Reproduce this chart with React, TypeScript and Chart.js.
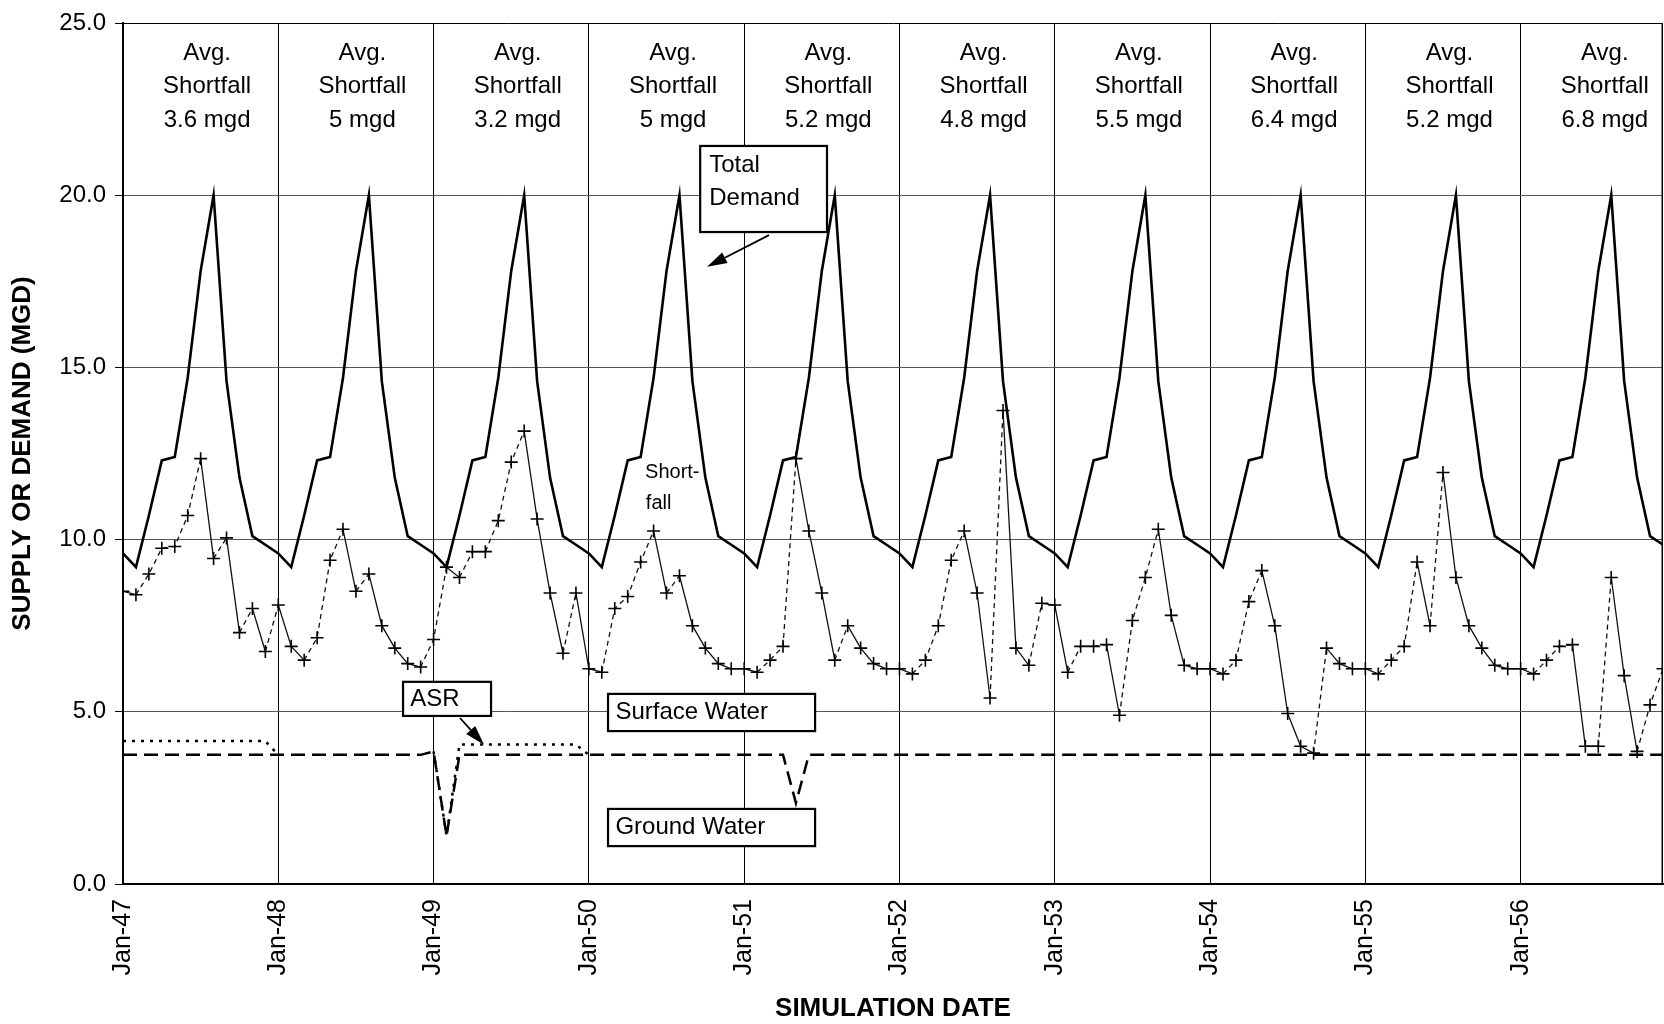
import React, { useEffect, useRef } from 'react';
import { Chart, registerables } from 'chart.js';

Chart.register(...registerables);

const FONT = "'Liberation Sans', Arial, Helvetica, sans-serif";

const yearTickLabels = ['Jan-47', 'Jan-48', 'Jan-49', 'Jan-50', 'Jan-51', 'Jan-52', 'Jan-53', 'Jan-54', 'Jan-55', 'Jan-56'];
const yTickValues = [0, 5, 10, 15, 20, 25];
const avgShortfallLabels = ['3.6 mgd', '5 mgd', '3.2 mgd', '5 mgd', '5.2 mgd', '4.8 mgd', '5.5 mgd', '6.4 mgd', '5.2 mgd', '6.8 mgd'];

// Monthly values, Jan-47 .. Dec-56 (MGD)
const totalDemand = [
  9.6, 9.2, 10.7, 12.3, 12.4, 14.7, 17.8, 20.0, 14.6, 11.8, 10.1, 9.85, // 1947
  9.6, 9.2, 10.7, 12.3, 12.4, 14.7, 17.8, 20.0, 14.6, 11.8, 10.1, 9.85, // 1948
  9.6, 9.2, 10.7, 12.3, 12.4, 14.7, 17.8, 20.0, 14.6, 11.8, 10.1, 9.85, // 1949
  9.6, 9.2, 10.7, 12.3, 12.4, 14.7, 17.8, 20.0, 14.6, 11.8, 10.1, 9.85, // 1950
  9.6, 9.2, 10.7, 12.3, 12.4, 14.7, 17.8, 20.0, 14.6, 11.8, 10.1, 9.85, // 1951
  9.6, 9.2, 10.7, 12.3, 12.4, 14.7, 17.8, 20.0, 14.6, 11.8, 10.1, 9.85, // 1952
  9.6, 9.2, 10.7, 12.3, 12.4, 14.7, 17.8, 20.0, 14.6, 11.8, 10.1, 9.85, // 1953
  9.6, 9.2, 10.7, 12.3, 12.4, 14.7, 17.8, 20.0, 14.6, 11.8, 10.1, 9.85, // 1954
  9.6, 9.2, 10.7, 12.3, 12.4, 14.7, 17.8, 20.0, 14.6, 11.8, 10.1, 9.85, // 1955
  9.6, 9.2, 10.7, 12.3, 12.4, 14.7, 17.8, 20.0, 14.6, 11.8, 10.1, 9.85, // 1956
];

const shortfall = [
  8.5, 8.4, 9.0, 9.75, 9.8, 10.7, 12.35, 9.45, 10.05, 7.3, 8.0, 6.75, // 1947
  8.1, 6.9, 6.5, 7.15, 9.4, 10.3, 8.5, 9.0, 7.5, 6.85, 6.4, 6.3, // 1948
  7.1, 9.2, 8.9, 9.65, 9.65, 10.55, 12.25, 13.15, 10.6, 8.45, 6.7, 8.45, // 1949
  6.25, 6.15, 8.0, 8.35, 9.35, 10.25, 8.45, 8.95, 7.5, 6.85, 6.4, 6.25, // 1950
  6.25, 6.15, 6.5, 6.9, 12.35, 10.25, 8.45, 6.5, 7.5, 6.85, 6.4, 6.25, // 1951
  6.25, 6.1, 6.5, 7.5, 9.4, 10.25, 8.45, 5.4, 13.75, 6.85, 6.35, 8.15, // 1952
  8.1, 6.15, 6.9, 6.9, 6.95, 4.9, 7.65, 8.9, 10.3, 7.8, 6.35, 6.25, // 1953
  6.25, 6.1, 6.5, 8.2, 9.1, 7.5, 4.95, 4.0, 3.8, 6.85, 6.4, 6.25, // 1954
  6.25, 6.1, 6.5, 6.9, 9.35, 7.5, 11.95, 8.9, 7.5, 6.85, 6.35, 6.25, // 1955
  6.25, 6.1, 6.5, 6.9, 6.95, 4.0, 4.0, 8.9, 6.05, 3.85, 5.2, 6.25, // 1956
];

const groundWater = [
  3.75, 3.75, 3.75, 3.75, 3.75, 3.75, 3.75, 3.75, 3.75, 3.75, 3.75, 3.75, // 1947
  3.75, 3.75, 3.75, 3.75, 3.75, 3.75, 3.75, 3.75, 3.75, 3.75, 3.75, 3.75, // 1948
  3.85, 1.4, 3.75, 3.75, 3.75, 3.75, 3.75, 3.75, 3.75, 3.75, 3.75, 3.75, // 1949
  3.75, 3.75, 3.75, 3.75, 3.75, 3.75, 3.75, 3.75, 3.75, 3.75, 3.75, 3.75, // 1950
  3.75, 3.75, 3.75, 3.75, 2.35, 3.75, 3.75, 3.75, 3.75, 3.75, 3.75, 3.75, // 1951
  3.75, 3.75, 3.75, 3.75, 3.75, 3.75, 3.75, 3.75, 3.75, 3.75, 3.75, 3.75, // 1952
  3.75, 3.75, 3.75, 3.75, 3.75, 3.75, 3.75, 3.75, 3.75, 3.75, 3.75, 3.75, // 1953
  3.75, 3.75, 3.75, 3.75, 3.75, 3.75, 3.75, 3.75, 3.75, 3.75, 3.75, 3.75, // 1954
  3.75, 3.75, 3.75, 3.75, 3.75, 3.75, 3.75, 3.75, 3.75, 3.75, 3.75, 3.75, // 1955
  3.75, 3.75, 3.75, 3.75, 3.75, 3.75, 3.75, 3.75, 3.75, 3.75, 3.75, 3.75, // 1956
];

// ASR only appears in 1947 and 1949 (null = not plotted)
const asr = [
  4.15, 4.15, 4.15, 4.15, 4.15, 4.15, 4.15, 4.15, 4.15, 4.15, 4.15, 4.15, // 1947
  3.75, null, null, null, null, null, null, null, null, null, null, null, // 1948
  3.85, 1.4, 4.05, 4.05, 4.05, 4.05, 4.05, 4.05, 4.05, 4.05, 4.05, 4.05, // 1949
  3.75, // Jan-50
];

const lastMonth = 119;

// note boxes in data coordinates (x = month index, y = MGD)
const noteBoxes = [
  { lines: ['Total', 'Demand'], x0: 44.6, x1: 54.4, y0: 21.43, y1: 18.93, tx: 45.3, ty: [20.88, 19.9] },
  { lines: ['ASR'], x0: 21.64, x1: 28.44, y0: 5.87, y1: 4.88, tx: 22.2, ty: [5.37] },
  { lines: ['Surface Water'], x0: 37.48, x1: 53.48, y0: 5.52, y1: 4.44, tx: 38.05, ty: [4.99] },
  { lines: ['Ground Water'], x0: 37.48, x1: 53.48, y0: 2.18, y1: 1.1, tx: 38.05, ty: [1.655] },
];
const noteArrows = [
  { x0: 49.92, y0: 18.84, x1: 45.13, y1: 17.92 },
  { x0: 26.04, y0: 4.82, x1: 27.9, y1: 4.04 },
];

function drawArrow(ctx: CanvasRenderingContext2D, x0: number, y0: number, x1: number, y1: number) {
  const ang = Math.atan2(y1 - y0, x1 - x0);
  const len = 20;
  const half = 6;
  const bx = x1 - len * Math.cos(ang);
  const by = y1 - len * Math.sin(ang);
  ctx.beginPath();
  ctx.moveTo(x0, y0);
  ctx.lineTo(bx, by);
  ctx.lineWidth = 1.8;
  ctx.stroke();
  ctx.beginPath();
  ctx.moveTo(x1, y1);
  ctx.lineTo(bx - half * Math.sin(ang), by + half * Math.cos(ang));
  ctx.lineTo(bx + half * Math.sin(ang), by - half * Math.cos(ang));
  ctx.closePath();
  ctx.fill();
}

const notesPlugin = {
  id: 'figureNotes',
  afterDraw(chart: any) {
    const { ctx, chartArea: a, scales } = chart;
    const px = (m: number) => scales.x.getPixelForValue(m);
    const py = (v: number) => scales.y.getPixelForValue(v);
    ctx.save();
    ctx.strokeStyle = '#000';
    ctx.fillStyle = '#000';
    // right frame edge
    ctx.lineWidth = 1.5;
    ctx.beginPath();
    ctx.moveTo(a.right - 0.75, a.top);
    ctx.lineTo(a.right - 0.75, a.bottom);
    ctx.stroke();

    // yearly average shortfall labels
    ctx.font = `24px ${FONT}`;
    ctx.textAlign = 'center';
    ctx.textBaseline = 'middle';
    avgShortfallLabels.forEach((t, i) => {
      const cx = px(i * 12 + 6.5);
      ctx.fillText('Avg.', cx, py(24.12));
      ctx.fillText('Shortfall', cx, py(23.16));
      ctx.fillText(t, cx, py(22.18));
    });

    // boxes
    ctx.textAlign = 'left';
    for (const b of noteBoxes) {
      const x0 = px(b.x0), x1 = px(b.x1), y0 = py(b.y0), y1 = py(b.y1);
      ctx.fillStyle = '#fff';
      ctx.fillRect(x0, y0, x1 - x0, y1 - y0);
      ctx.lineWidth = 2.2;
      ctx.strokeStyle = '#000';
      ctx.strokeRect(x0, y0, x1 - x0, y1 - y0);
      ctx.fillStyle = '#000';
      ctx.font = `24px ${FONT}`;
      b.lines.forEach((l, k) => ctx.fillText(l, px(b.tx), py(b.ty[k])));
    }

    // arrows
    for (const ar of noteArrows) {
      drawArrow(ctx, px(ar.x0), py(ar.y0), px(ar.x1), py(ar.y1));
    }

    // shortfall label
    ctx.font = `20px ${FONT}`;
    ctx.textAlign = 'left';
    ctx.fillText('Short-', px(40.34), py(11.96));
    ctx.fillText('fall', px(40.4), py(11.06));
    ctx.restore();
  },
};

export default function App() {
  const ref = useRef<HTMLCanvasElement>(null);

  useEffect(() => {
    const canvas = ref.current;
    if (!canvas) return;
    const pts = (arr: (number | null)[]) => arr.map((v, i) => ({ x: i, y: v }));

    const chart = new Chart(canvas, {
      type: 'line',
      data: {
        datasets: [
          {
            label: 'Total Demand',
            data: pts(totalDemand) as any,
            borderColor: '#000',
            borderWidth: 2.6,
            pointRadius: 0,
            tension: 0,
          },
          {
            label: 'Shortfall',
            data: pts(shortfall) as any,
            borderColor: '#111',
            borderWidth: 1.3,
            pointStyle: 'cross',
            pointRadius: 6.5,
            pointBorderWidth: 1.6,
            pointBorderColor: '#000',
            tension: 0,
            segment: {
              borderDash: (c: any) => (c.p1.parsed.y > c.p0.parsed.y ? [5, 4] : undefined),
            },
          },
          {
            label: 'ASR',
            data: pts(asr) as any,
            borderColor: '#000',
            borderWidth: 2.5,
            borderDash: [3, 6],
            pointRadius: 0,
            spanGaps: false,
            tension: 0,
          },
          {
            label: 'Ground Water',
            data: pts(groundWater) as any,
            borderColor: '#000',
            borderWidth: 2.5,
            borderDash: [14, 7],
            pointRadius: 0,
            tension: 0,
          },
        ],
      },
      options: {
        responsive: false,
        animation: false,
        devicePixelRatio: 1,
        layout: { autoPadding: false, padding: { top: 23, right: 1, bottom: 0, left: 0 } },
        plugins: {
          legend: { display: false },
          tooltip: { enabled: false },
        },
        scales: {
          x: {
            type: 'linear',
            min: 0,
            max: lastMonth,
            afterBuildTicks: (s: any) => {
              s.ticks = yearTickLabels.map((_, i) => ({ value: i * 12 }));
            },
            afterFit: (s: any) => {
              s.height = 140;
              s.paddingLeft = 0;
              s.paddingRight = 0;
            },
            ticks: {
              autoSkip: false,
              maxRotation: 90,
              minRotation: 90,
              padding: 15,
              color: '#000',
              font: { family: FONT, size: 25 },
              callback: (v: any) => yearTickLabels[Math.round(Number(v) / 12)] ?? '',
            },
            grid: { color: '#000', lineWidth: 1, drawTicks: false },
            border: { color: '#000', width: 2 },
            title: {
              display: true,
              text: 'SIMULATION DATE',
              color: '#000',
              font: { family: FONT, size: 26, weight: 'bold' },
              padding: { top: 0, bottom: 0 },
            },
          },
          y: {
            min: 0,
            max: 25,
            afterBuildTicks: (s: any) => {
              s.ticks = yTickValues.map((v) => ({ value: v }));
            },
            afterFit: (s: any) => {
              s.width = 123;
              s.paddingTop = 0;
              s.paddingBottom = 0;
            },
            ticks: {
              padding: 9,
              color: '#000',
              font: { family: FONT, size: 24 },
              callback: (v: any) => Number(v).toFixed(1),
            },
            grid: {
              color: (c: any) => (c.tick && c.tick.value === 25 ? '#000' : '#555'),
              lineWidth: 1,
              tickLength: 8,
              tickColor: '#000',
            },
            border: { color: '#000', width: 2 },
            title: {
              display: true,
              text: 'SUPPLY OR DEMAND (MGD)',
              color: '#000',
              font: { family: FONT, size: 26, weight: 'bold' },
              padding: { top: 7, bottom: 0 },
            },
          },
        },
      },
      plugins: [notesPlugin],
    } as any);

    return () => chart.destroy();
  }, []);

  return (
    <div style={{ position: 'absolute', left: 0, top: 0, width: 1664, height: 1024, background: '#fff' }}>
      <canvas ref={ref} width={1664} height={1024} style={{ display: 'block', width: 1664, height: 1024 }} />
    </div>
  );
}
